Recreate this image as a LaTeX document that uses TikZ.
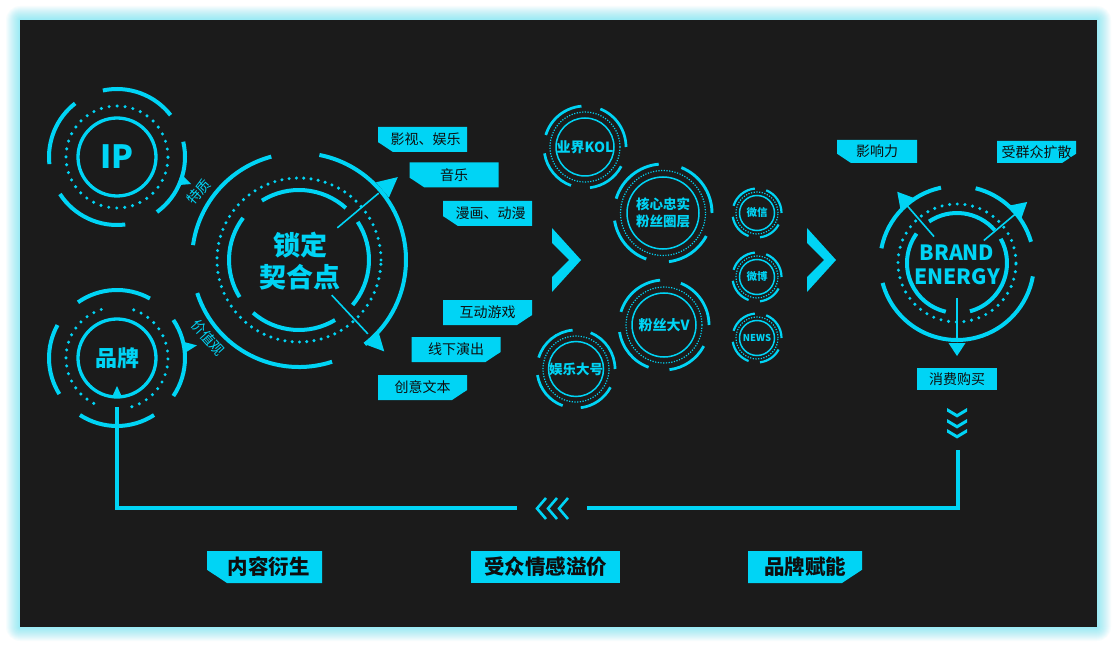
\documentclass[tikz,border=0pt]{standalone}
\usepackage{fontspec}
\setmainfont{Noto Sans CJK SC}
\usepackage{tikz}
\usetikzlibrary{positioning, calc}
\definecolor{neon}{RGB}{0, 212, 245}
\definecolor{panel}{RGB}{27, 27, 27}
\definecolor{ink}{RGB}{14, 14, 14}

\begin{document}
\begin{tikzpicture}[
    x=1pt, y=1pt,
    thickarc/.style={neon, line width=4pt},
    ringline/.style={neon, line width=3.3pt},
    dotring/.style={neon, line width=3.4pt, line cap=round, dash pattern=on 0pt off 8pt},
    thinline/.style={neon, line width=1.5pt},
    finedots/.style={neon, line width=1.2pt, dash pattern=on 1.2pt off 1.5pt},
    pointer/.style={neon, line width=1.6pt},
    loopline/.style={neon, line width=4pt},
    tag/.style={text=ink, inner sep=0pt, minimum width=89pt, minimum height=25pt,
      font=\fontsize{14}{14}\selectfont, path picture={\fill[neon] (path picture bounding box.north west) rectangle (path picture bounding box.south east);}},
    tagsw/.style={tag, path picture={\fill[neon] (path picture bounding box.north west) -- (path picture bounding box.north east)
      -- (path picture bounding box.south east) -- ([xshift=#1]path picture bounding box.south west)
      -- ([yshift=0.66*#1]path picture bounding box.south west) -- cycle;}},
    tagse/.style={tag, path picture={\fill[neon] (path picture bounding box.north west) -- (path picture bounding box.north east)
      -- ([yshift=0.66*#1]path picture bounding box.south east) -- ([xshift=-#1]path picture bounding box.south east)
      -- (path picture bounding box.south west) -- cycle;}},
    wide/.style={minimum width=#1, minimum height=32pt, font=\fontsize{20.5}{20.5}\selectfont\bfseries},
    ringtext/.style={neon, align=center, font=\fontsize{14}{16.5}\selectfont\bfseries}
    ]
    % Background and glow
    \useasboundingbox (0,0) rectangle (1117,-647);
    \fill[white] (0,0) rectangle (1117,-647);
    \foreach \g in {1,...,14}
      \fill[neon, opacity=0.03, rounded corners={\g*1pt}] ({20-\g},{-20+\g}) rectangle ({1097+\g},{-627-\g});
    \fill[panel] (20,-20) rectangle (1097,-627);

    % Centres
    \coordinate (ip) at (117,-157);
    \coordinate (pp) at (117,-358);
    \coordinate (lock) at (299,-260);
    \coordinate (brand) at (957,-263);
    \coordinate (kol) at (585,-147);
    \coordinate (core) at (663,-213);
    \coordinate (bigv) at (664,-325);
    \coordinate (ent) at (576,-369);
    \coordinate (wx) at (757,-213);
    \coordinate (wb) at (757,-277);
    \coordinate (news) at (757,-338);

    % IP ring
    \draw[ringline] (ip) circle[radius=39];
    \draw[dotring] (ip) circle[radius=51];
    \foreach \a/\b in {38/102, 128/186, 213/277, -54/13}
      \draw[thickarc] ($(ip)+(\a:68)$) arc[start angle=\a, end angle=\b, radius=68];
    \node[neon, font=\fontsize{32}{32}\selectfont\bfseries] (iptxt) at (ip) {IP};

    % Brand ring (left)
    \draw[ringline] (pp) circle[radius=39];
    \foreach \a/\b in {108/250, -73/75}
      \draw[dotring] ($(pp)+(\a:51)$) arc[start angle=\a, end angle=\b, radius=51];
    \foreach \a/\b in {61/125, 151/212, 237/303, -34/34}
      \draw[thickarc] ($(pp)+(\a:68)$) arc[start angle=\a, end angle=\b, radius=68];
    \node[neon, font=\fontsize{22}{22}\selectfont\bfseries] (pptxt) at (pp) {品牌};
    \fill[neon] ($(pp)+(0,-28)$) -- ($(pp)+(5,-39)$) -- ($(pp)+(-5,-39)$) -- cycle;

    % Lock ring
    \draw[dotring, dash pattern=on 0pt off 7.3pt] (lock) circle[radius=82];
    \foreach \a/\b in {48/122, 143/212, 229/301, -40/33}
      \draw[thickarc] ($(lock)+(\a:70)$) arc[start angle=\a, end angle=\b, radius=70];
    \foreach \a/\b in {105/172, 198/288, -52/79}
      \draw[thickarc] ($(lock)+(\a:107)$) arc[start angle=\a, end angle=\b, radius=107];
    \draw[pointer] ($(lock)+(40:50)$) -- ($(lock)+(40:104)$);
    \draw[pointer] ($(lock)+(-47:48)$) -- ($(lock)+(-47:101)$);
    \node[neon, align=center, font=\fontsize{27}{32}\selectfont\bfseries] (locktxt) at ($(lock)+(1,-1)$) {锁定\\契合点};

    % Brand energy ring
    \draw[dotring, dash pattern=on 0pt off 7.7pt] (brand) circle[radius=59];
    \foreach \a/\b in {41/124, 144/257, -75/29}
      \draw[thickarc] ($(brand)+(\a:50)$) arc[start angle=\a, end angle=\b, radius=50];
    \foreach \a/\b in {16/76, 102/169, 195/350}
      \draw[thickarc] ($(brand)+(\a:77)$) arc[start angle=\a, end angle=\b, radius=77];
    \foreach \ang in {131, 40, 270}
      \draw[pointer] ($(brand)+(\ang:35)$) -- ($(brand)+(\ang:76)$);
    \node[neon, align=center, font=\fontsize{21}{24}\selectfont\bfseries] (brandtxt) at ($(brand)+(0,-2)$) {BRAND\\ENERGY};

    % Ring pointers
    \foreach \c/\ang/\rb/\rt/\w in {ip/-20/66/79/6, pp/9/67/81/6, lock/40/109/129/10, lock/-47/107/125/9,
        brand/130/78/93/8.5, brand/41/78/93/8.5, brand/270/80/93/8.5}
      \fill[neon] ($(\c)+(\ang:\rt)$) -- ($(\c)+(\ang:\rb)+({\ang+90}:\w)$) -- ($(\c)+(\ang:\rb)+({\ang-90}:\w)$) -- cycle;

    \node[neon, rotate=48, inner sep=0pt, font=\fontsize{14}{14}\selectfont] (trait) at (199,-192) {特质};
    \node[neon, rotate=-48, inner sep=0pt, font=\fontsize{14}{14}\selectfont] (value) at (208,-338) {价值观};

    % Media rings
    \foreach \c/\ri/\rd/\ro/\w in {kol/29/35/41/2.7pt, core/36/42.5/49/2.9pt, bigv/32/38/45/2.8pt, ent/27.5/33/39/2.7pt,
        wx/17.5/21/24.5/2.2pt, wb/17.5/21/24.5/2.2pt, news/17.5/21/24.5/2.2pt} {
      \draw[thinline] (\c) circle[radius=\ri];
      \draw[finedots] (\c) circle[radius=\rd];
      \foreach \a/\b in {0/68, 95/163, 189/250, 277/332}
        \draw[neon, line width=\w] ($(\c)+(\a:\ro)$) arc[start angle=\a, end angle=\b, radius=\ro];
    }
    \node[ringtext] (koltxt) at (kol) {业界KOL};
    \node[ringtext, font=\fontsize{13.5}{16.5}\selectfont\bfseries] (coretxt) at (core) {核心忠实\\粉丝圈层};
    \node[ringtext] (bigvtxt) at (bigv) {粉丝大V};
    \node[ringtext, font=\fontsize{13.5}{13.5}\selectfont\bfseries] (enttxt) at (ent) {娱乐大号};
    \node[ringtext, font=\fontsize{10.5}{10.5}\selectfont\bfseries] (wxtxt) at (wx) {微信};
    \node[ringtext, font=\fontsize{10.5}{10.5}\selectfont\bfseries] (wbtxt) at (wb) {微博};
    \node[ringtext, font=\fontsize{9.5}{9.5}\selectfont\bfseries] (newstxt) at (news) {NEWS};

    % Tags
    \node[tagsw=15pt] (film) at (422.5,-139.5) {\hspace{6pt}影视、娱乐};
    \node[tagsw=15pt] (music) at (454,-175) {音乐};
    \node[tagsw=15pt] (comic) at (487.5,-213.5) {\hspace{6pt}漫画、动漫};
    \node[tagse=15pt] (game) at (487.5,-312.5) {互动游戏};
    \node[tagse=15pt] (show) at (456,-349.5) {线下演出};
    \node[tagse=15pt] (text) at (422.5,-387.5) {创意文本};
    \node[tagsw=14pt, minimum width=80pt, minimum height=23pt] (reach) at (877,-151.5) {影响力};
    \node[tagse=14pt, minimum width=79pt, minimum height=22pt] (spread) at (1036.5,-152) {受群众扩散};
    \node[tag, minimum width=80pt, minimum height=22pt] (buy) at (957,-379) {消费购买};

    \node[tagsw=20pt, wide=115pt] (derive) at (264.5,-567) {\hspace{8pt}内容衍生};
    \node[tag, wide=149pt] (premium) at (545.5,-567) {受众情感溢价};
    \node[tagse=20pt, wide=114pt] (enable) at (805,-567) {品牌赋能};

    % Chevrons
    \foreach \x in {552, 807}
      \fill[neon] (\x,-228) -- ++(29,-32) -- ++(-29,-32) -- ++(0,15) -- ++(17,17) -- ++(-17,17) -- cycle;
    \foreach \y in {408, 419, 429}
      \fill[neon] (947,-\y) -- (957,{-\y-6}) -- (967,-\y) -- (967,{-\y-3.5}) -- (957,{-\y-9.5}) -- (947,{-\y-3.5}) -- cycle;
    \foreach \x in {537, 548, 559}
      \draw[neon, line width=2.6pt] ({\x+9},-498) -- (\x,-508.5) -- ({\x+9},-519);

    % Feedback loop
    \coordinate (ppfoot) at (117,-407);
    \coordinate (loopl) at (517,-508);
    \coordinate (loopr) at (587,-508);
    \coordinate (bfoot) at (958,-450);
    \draw[loopline] (ppfoot) |- (loopl);
    \draw[loopline] (loopr) -| (bfoot);
  \end{tikzpicture}
\end{document}
